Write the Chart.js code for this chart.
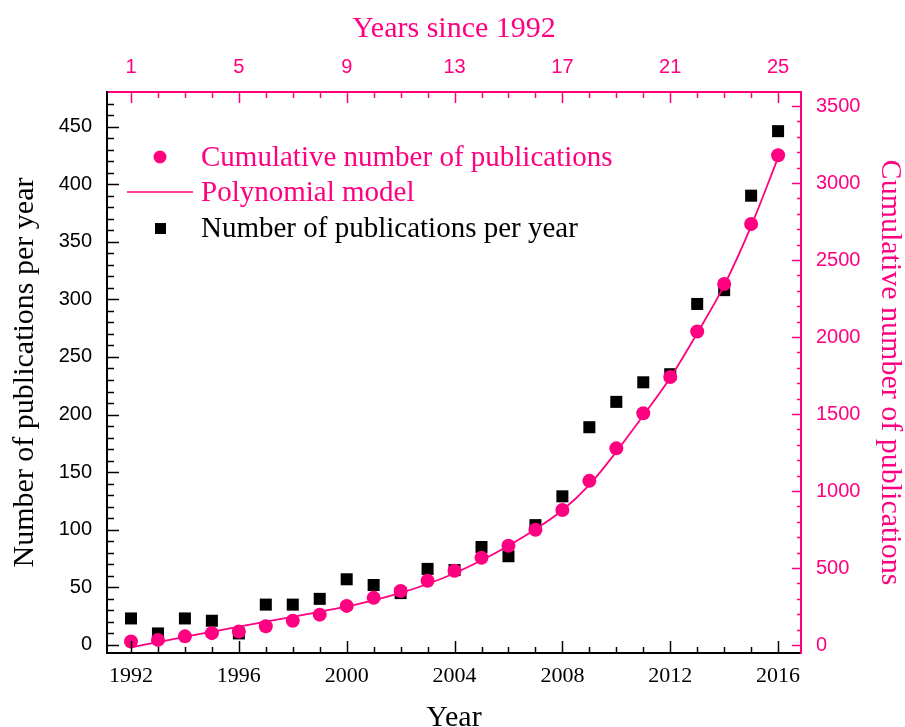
<!DOCTYPE html>
<html>
<head>
<meta charset="utf-8">
<script src="https://cdn.jsdelivr.net/npm/chart.js@4.4.1/dist/chart.umd.min.js"></script>
<style>
  html, body { margin: 0; padding: 0; background: #fff; }
  #wrap { width: 905px; height: 727px; }
</style>
</head>
<body>
<div id="wrap"><canvas id="chart" width="905" height="727"></canvas></div>
<script>
// values
const years = [1992, 1993, 1994, 1995, 1996, 1997, 1998, 1999, 2000, 2001, 2002, 2003, 2004,
  2005, 2006, 2007, 2008, 2009, 2010, 2011, 2012, 2013, 2014, 2015, 2016];
const perYear = [23, 10, 23, 21, 10, 35, 35, 40, 57, 52, 45, 66, 65,
  85, 77, 104, 129, 189, 211, 228, 235, 296, 308, 390, 446];
const cumulative = [23, 33, 56, 77, 87, 122, 157, 197, 254, 306, 351, 417, 482,
  567, 644, 748, 877, 1066, 1277, 1505, 1740, 2036, 2344, 2734, 3180];
const model = [-15, 19, 53, 86, 119, 151, 183, 215, 250, 290, 338, 396, 466,
  550, 645, 752, 875, 1040, 1255, 1490, 1735, 2025, 2335, 2720, 3165];

// tick labels
const yearTicks = [1992, 1996, 2000, 2004, 2008, 2012, 2016];
const sinceTicks = [1, 5, 9, 13, 17, 21, 25];
const perYearTicks = [0, 50, 100, 150, 200, 250, 300, 350, 400, 450];
const cumTicks = [0, 500, 1000, 1500, 2000, 2500, 3000, 3500];

const PINK = "#ff0080";
const SERIF = "'Liberation Serif', 'Times New Roman', serif";
const SANS = "'Liberation Sans', Arial, sans-serif";

const pts = (ys) => years.map((x, i) => ({ x: x, y: ys[i] }));
const setTicks = (vals) => (scale) => { scale.ticks = vals.map(v => ({ value: v })); };
const fixW = (w) => (scale) => { scale.width = w; };
const fixH = (h) => (scale) => { scale.height = h; };
const plain = (v) => String(v);

// inward tick marks + legend
const extras = {
  id: "extras",
  afterDraw(chart) {
    const ctx = chart.ctx, s = chart.scales, a = chart.chartArea;
    const seg = (x1, y1, x2, y2) => { ctx.beginPath(); ctx.moveTo(x1, y1); ctx.lineTo(x2, y2); ctx.stroke(); };
    ctx.save();
    ctx.lineWidth = 1.5;

    ctx.strokeStyle = "#000";
    for (let v = 1992; v <= 2016; v++) {
      const x = Math.round(s.x.getPixelForValue(v)) + 0.5;
      seg(x, a.bottom, x, a.bottom - ((v - 1992) % 4 === 0 ? 12 : 6));
    }
    for (let v = 0; v <= 470; v += 10) {
      const y = Math.round(s.y.getPixelForValue(v)) + 0.5;
      seg(a.left, y, a.left + (v % 50 === 0 ? 12 : 7), y);
    }

    ctx.strokeStyle = PINK;
    for (let v = 1; v <= 25; v++) {
      const x = Math.round(s.x2.getPixelForValue(v)) + 0.5;
      seg(x, a.top, x, a.top + ((v - 1) % 4 === 0 ? 11 : 6));
    }
    for (let v = 0; v <= 3500; v += 100) {
      const y = Math.round(s.y2.getPixelForValue(v)) + 0.5;
      seg(a.right, y, a.right - (v % 500 === 0 ? 9 : 4), y);
    }

    // legend
    const ds = chart.data.datasets;
    ctx.font = "29px " + SERIF;
    ctx.textBaseline = "middle";
    ctx.fillStyle = PINK;
    ctx.beginPath(); ctx.arc(160, 157, 6.5, 0, Math.PI * 2); ctx.fill();
    ctx.fillText(ds[0].label, 201, 158);
    ctx.lineWidth = 1.5;
    seg(127, 192, 193, 192);
    ctx.fillText(ds[1].label, 201, 193);
    ctx.fillStyle = "#000";
    ctx.fillRect(155, 223, 11, 11);
    ctx.fillText(ds[2].label, 201, 229);
    ctx.restore();
  }
};

new Chart(document.getElementById("chart"), {
  type: "scatter",
  data: {
    datasets: [{
      label: "Cumulative number of publications",
      data: pts(cumulative),
      yAxisID: "y2",
      pointStyle: "circle",
      pointRadius: 7,
      backgroundColor: PINK,
      borderColor: PINK,
      borderWidth: 0,
      order: 1
    }, {
      label: "Polynomial model",
      data: pts(model),
      yAxisID: "y2",
      showLine: true,
      pointRadius: 0,
      borderColor: PINK,
      borderWidth: 1.8,
      cubicInterpolationMode: "monotone",
      order: 2
    }, {
      label: "Number of publications per year",
      data: pts(perYear),
      yAxisID: "y",
      pointStyle: "rect",
      pointRadius: 8.5,
      backgroundColor: "#000",
      borderColor: "#000",
      borderWidth: 0,
      order: 3
    }]
  },
  options: {
    responsive: false,
    animation: false,
    devicePixelRatio: 1,
    layout: { padding: 0 },
    plugins: { legend: { display: false }, tooltip: { enabled: false } },
    scales: {
      x: {
        type: "linear", position: "bottom", min: 1991.11, max: 2016.85,
        afterBuildTicks: setTicks(yearTicks), afterFit: fixH(74),
        grid: { display: false, drawTicks: false },
        border: { display: true, color: "#000", width: 2 },
        ticks: { color: "#000", font: { family: SERIF, size: 22 }, padding: 10, maxRotation: 0, callback: plain },
        title: { display: true, text: "Year", color: "#000", font: { family: SERIF, size: 30, lineHeight: 0.6 }, padding: 0 }
      },
      x2: {
        type: "linear", position: "top", min: 0.11, max: 25.85,
        afterBuildTicks: setTicks(sinceTicks), afterFit: fixH(92),
        grid: { display: false, drawTicks: false },
        border: { display: true, color: PINK, width: 2 },
        ticks: { color: PINK, font: { family: SANS, size: 20 }, padding: 13, maxRotation: 0, callback: plain },
        title: { display: true, text: "Years since 1992", color: PINK, font: { family: SERIF, size: 30, lineHeight: 1 }, padding: 14 }
      },
      y: {
        type: "linear", position: "left", min: -7, max: 480,
        afterBuildTicks: setTicks(perYearTicks), afterFit: fixW(107),
        grid: { display: false, drawTicks: false },
        border: { display: true, color: "#000", width: 2 },
        ticks: { color: "#000", font: { family: SANS, size: 20 }, padding: 15, callback: plain },
        title: { display: true, text: "Number of publications per year", color: "#000", font: { family: SERIF, size: 30, lineHeight: 1 }, padding: 10 }
      },
      y2: {
        type: "linear", position: "right", min: -52, max: 3591,
        afterBuildTicks: setTicks(cumTicks), afterFit: fixW(104),
        grid: { display: false, drawTicks: false },
        border: { display: true, color: PINK, width: 2 },
        ticks: { color: PINK, font: { family: SANS, size: 20 }, padding: 15, callback: plain },
        title: { display: true, text: "Cumulative number of publications", color: PINK, font: { family: SERIF, size: 30, lineHeight: 1 }, padding: 0 }
      }
    }
  },
  plugins: [extras]
});
</script>
</body>
</html>
